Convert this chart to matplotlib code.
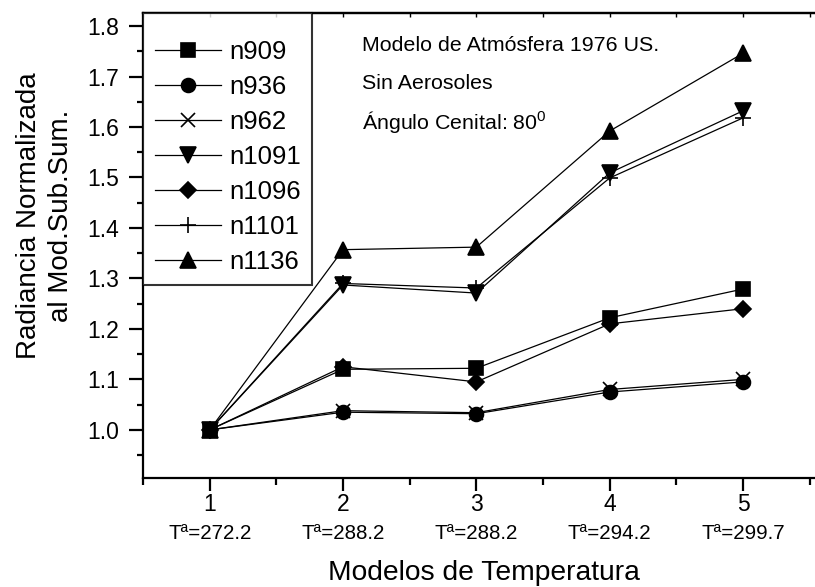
import matplotlib
matplotlib.use("Agg")
import matplotlib.pyplot as plt
from matplotlib.ticker import MultipleLocator

plt.rcParams["font.family"] = ["Liberation Sans", "DejaVu Sans"]
plt.rcParams["mathtext.fontset"] = "custom"
plt.rcParams["mathtext.rm"] = "Liberation Sans"
plt.rcParams["mathtext.it"] = "Liberation Sans"

models = [1, 2, 3, 4, 5]
temps = ["272.2", "288.2", "288.2", "294.2", "299.7"]

n909 = [1.000, 1.120, 1.122, 1.222, 1.279]
n936 = [1.000, 1.035, 1.032, 1.075, 1.095]
n962 = [1.000, 1.038, 1.034, 1.080, 1.100]
n1091 = [1.000, 1.287, 1.271, 1.509, 1.632]
n1096 = [1.000, 1.125, 1.095, 1.210, 1.240]
n1101 = [1.000, 1.290, 1.281, 1.499, 1.618]
n1136 = [1.000, 1.357, 1.362, 1.592, 1.746]

series = [
    ("n909", n909, "s", 10),
    ("n936", n936, "o", 10),
    ("n962", n962, "x", 10),
    ("n1091", n1091, "v", 11),
    ("n1096", n1096, "D", 8.5),
    ("n1101", n1101, "+", 11),
    ("n1136", n1136, "^", 11),
]

fig = plt.figure(figsize=(8.15, 5.87), dpi=100)
ax = fig.add_axes([0.1755, 0.186, 0.8245, 0.792])

for name, vals, mk, ms in series:
    ax.plot(models, vals, color="black", lw=0.9, marker=mk, ms=ms,
            mfc="black", mec="black", mew=1.2, label=name, clip_on=False)

ax.set_xlim(0.5, 5.54)
ax.set_ylim(0.905, 1.826)
ax.xaxis.set_major_locator(MultipleLocator(1))
ax.xaxis.set_minor_locator(MultipleLocator(0.5))
ax.yaxis.set_major_locator(MultipleLocator(0.1))
ax.yaxis.set_minor_locator(MultipleLocator(0.05))
ax.yaxis.set_major_formatter(plt.FormatStrFormatter("%.1f"))

for s in ["left", "bottom", "top"]:
    ax.spines[s].set_linewidth(1.6)
ax.spines["right"].set_visible(False)

ax.tick_params(axis="both", which="major", direction="out", width=1.6,
               labelsize=16.5)
ax.tick_params(axis="both", which="minor", direction="out", width=1.6)
ax.tick_params(axis="x", which="major", length=9, pad=2)
ax.tick_params(axis="x", which="minor", length=5)
ax.tick_params(axis="y", which="major", length=10, pad=7)
ax.tick_params(axis="y", which="minor", length=4)

# short inward ticks on the top frame
top = ax.secondary_xaxis("top")
top.xaxis.set_major_locator(MultipleLocator(0.5))
top.tick_params(direction="in", length=3, width=1, labelsize=0)
top.set_xticklabels([])
top.spines["top"].set_linewidth(1.6)

# temperature line under each model number
for m, t in zip(models, temps):
    ax.annotate("T\u00aa=" + t, xy=(m, 0), xycoords=("data", "axes fraction"),
                xytext=(0, -40), textcoords="offset points",
                ha="center", va="center", fontsize=14.8)

ax.set_xlabel("Modelos de Temperatura", fontsize=20.3)
ax.xaxis.set_label_coords(0.507, -0.176)
ax.set_ylabel("Radiancia Normalizada\nal Mod.Sub.Sum.", fontsize=20,
              linespacing=1.3)
ax.yaxis.set_label_coords(-0.103, 0.563)

ax.text(0.326, 0.929, "Modelo de Atm\u00f3sfera 1976 US.", transform=ax.transAxes,
        fontsize=15.4, va="center", ha="left")
ax.text(0.326, 0.849, "Sin Aerosoles", transform=ax.transAxes,
        fontsize=15.4, va="center", ha="left")
ax.text(0.326, 0.766, "\u00c1ngulo Cenital: 80$^{\\mathrm{0}}$",
        transform=ax.transAxes, fontsize=15.4, va="center", ha="left")

leg = ax.legend(loc="upper left", bbox_to_anchor=(0, 1), borderaxespad=0,
                fontsize=18.5, frameon=True, fancybox=False, handlelength=2.6,
                handletextpad=0.3, labelspacing=0.43, borderpad=0.45,
                title=" ", title_fontsize=3)
leg.get_frame().set_edgecolor("black")
leg.get_frame().set_linewidth(1.5)

fig.savefig("out.png", dpi=100)
